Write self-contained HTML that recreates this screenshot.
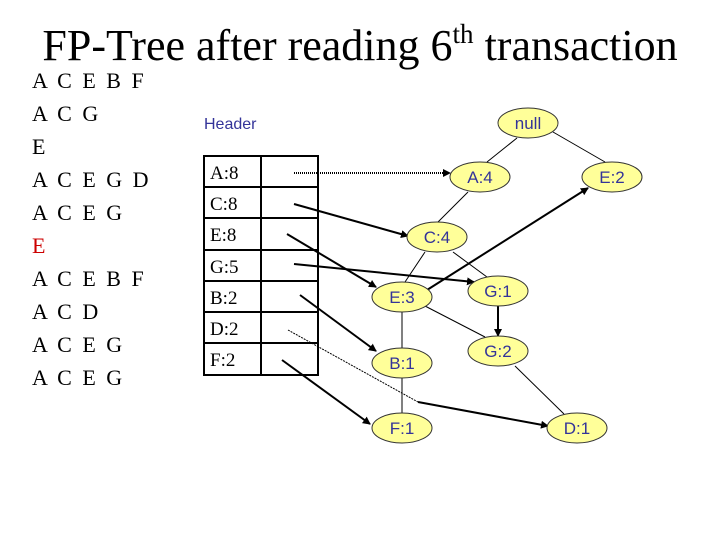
<!DOCTYPE html>
<html><head><meta charset="utf-8"><style>
body{margin:0;background:#fff;width:720px;height:540px;overflow:hidden;position:relative}
.t{position:absolute;left:0;width:720px;top:20px;text-align:center;font:44px "Liberation Serif",serif;color:#000}
.l{position:absolute;left:32px;font:22px "Liberation Serif",serif;letter-spacing:2.5px;line-height:33px;top:64px}
</style></head><body>
<div class="t">FP-Tree after reading 6<sup style="font-size:27px;vertical-align:17px;line-height:0">th</sup> transaction</div>
<div class="l">A C E B F<br>A C G<br>E<br>A C E G D<br>A C E G<br><span style="color:#c00">E</span><br>A C E B F<br>A C D<br>A C E G<br>A C E G</div>
<svg width="720" height="540" style="position:absolute;left:0;top:0">
<defs><marker id="a" markerWidth="8" markerHeight="8" refX="7" refY="4" orient="auto" markerUnits="userSpaceOnUse"><path d="M0,0L8,4L0,8z" fill="#000"/></marker></defs>
<text x="204" y="129" font-family="Liberation Sans,sans-serif" font-size="16" fill="#333399">Header</text>
<g stroke="#000" stroke-width="2" fill="none">
<rect x="204" y="156" width="114" height="219"/>
<line x1="261" y1="156" x2="261" y2="375"/>
<line x1="204" y1="187" x2="318" y2="187"/><line x1="204" y1="218" x2="318" y2="218"/>
<line x1="204" y1="250" x2="318" y2="250"/><line x1="204" y1="281" x2="318" y2="281"/>
<line x1="204" y1="312" x2="318" y2="312"/><line x1="204" y1="343" x2="318" y2="343"/>
</g>
<g font-family="Liberation Serif,serif" font-size="19" fill="#000">
<text x="210" y="179">A:8</text><text x="210" y="210">C:8</text><text x="210" y="241">E:8</text>
<text x="210" y="273">G:5</text><text x="210" y="304">B:2</text><text x="210" y="335">D:2</text><text x="210" y="366">F:2</text>
</g>
<g stroke="#000" stroke-width="1">
<line x1="517" y1="138" x2="487" y2="162"/><line x1="553" y1="132" x2="605" y2="162"/>
<line x1="468" y1="192" x2="438" y2="222"/><line x1="425" y1="252" x2="405" y2="282"/>
<line x1="453" y1="252" x2="487" y2="277"/><line x1="402" y1="312" x2="402" y2="348"/>
<line x1="425" y1="306" x2="485" y2="337"/><line x1="402" y1="378" x2="402" y2="413"/>
<line x1="515" y1="366" x2="564" y2="414"/>
</g>
<g stroke="#000" stroke-width="2" fill="none" marker-end="url(#a)">
<line x1="294" y1="173" x2="450" y2="173" stroke-dasharray="1 1" stroke-width="2"/>
<line x1="294" y1="204" x2="408" y2="236"/>
<line x1="287" y1="234" x2="376" y2="287"/>
<line x1="294" y1="264" x2="474" y2="282"/>
<line x1="427" y1="290" x2="588" y2="188"/>
<line x1="498" y1="306" x2="498" y2="336"/>
<line x1="300" y1="295" x2="376" y2="351"/>
<line x1="282" y1="360" x2="370" y2="424"/>
<path d="M418,402L548,426"/>
</g>
<path d="M288,330L418,402" stroke="#000" stroke-width="1" stroke-dasharray="2 1" fill="none"/>
<g fill="#ffff99" stroke="#333" stroke-width="1">
<ellipse cx="528" cy="123" rx="30" ry="15"/><ellipse cx="480" cy="177" rx="30" ry="15"/>
<ellipse cx="612" cy="177" rx="30" ry="15"/><ellipse cx="437" cy="237" rx="30" ry="15"/>
<ellipse cx="402" cy="297" rx="30" ry="15"/><ellipse cx="498" cy="291" rx="30" ry="15"/>
<ellipse cx="498" cy="351" rx="30" ry="15"/><ellipse cx="402" cy="363" rx="30" ry="15"/>
<ellipse cx="402" cy="428" rx="30" ry="15"/><ellipse cx="577" cy="428" rx="30" ry="15"/>
</g>
<g font-family="Liberation Sans,sans-serif" font-size="17" fill="#333399" text-anchor="middle">
<text x="528" y="129">null</text><text x="480" y="183">A:4</text><text x="612" y="183">E:2</text>
<text x="437" y="243">C:4</text><text x="402" y="303">E:3</text><text x="498" y="297">G:1</text>
<text x="498" y="357">G:2</text><text x="402" y="369">B:1</text><text x="402" y="434">F:1</text>
<text x="577" y="434">D:1</text>
</g>
</svg>
</body></html>
